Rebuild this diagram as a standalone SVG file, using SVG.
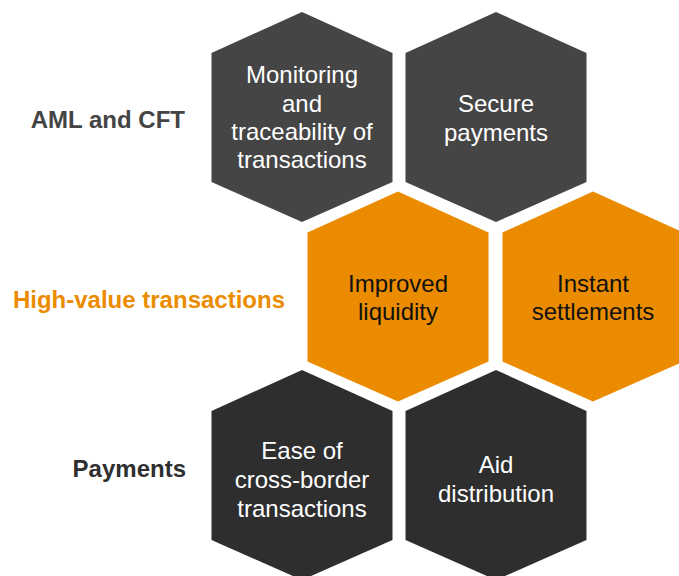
<svg xmlns="http://www.w3.org/2000/svg" xmlns:xlink="http://www.w3.org/1999/xlink" width="679" height="576" viewBox="0 0 679 576">
  <style>
    .hx-top { fill: #454545; }
    .hx-mid { fill: #EB8C00; }
    .hx-bot { fill: #2E2E2E; }
    .t { font-family: "Liberation Sans", Arial, sans-serif; font-size: 24px; text-anchor: middle; }
    .tw { fill: #FFFFFF; }
    .tk { fill: #111111; }
    .lbl { font-family: "Liberation Sans", Arial, sans-serif; font-size: 24px; font-weight: bold; text-anchor: end; }
  </style>
  <defs>
    <polygon id="hex" points="0,-105 90.5,-64 90.5,65 0,105 -90.5,65 -90.5,-64"/>
  </defs>
  <rect width="679" height="576" fill="#FFFFFF"/>

  <g id="label-aml">
    <text class="lbl" x="185" y="128" fill="#444444">AML and CFT</text>
  </g>
  <g id="label-hv">
    <text class="lbl" x="285" y="308" fill="#EB8C00">High-value transactions</text>
  </g>
  <g id="label-payments">
    <text class="lbl" x="186" y="477" fill="#2E2E2E">Payments</text>
  </g>

  <g id="hex-monitoring">
    <use xlink:href="#hex" class="hx-top" transform="translate(302,117)"/>
    <text class="t tw" x="302" y="83">Monitoring</text>
    <text class="t tw" x="302" y="112">and</text>
    <text class="t tw" x="302" y="140">traceability of</text>
    <text class="t tw" x="302" y="168">transactions</text>
  </g>
  <g id="hex-secure">
    <use xlink:href="#hex" class="hx-top" transform="translate(496,117)"/>
    <text class="t tw" x="496" y="112">Secure</text>
    <text class="t tw" x="496" y="141">payments</text>
  </g>
  <g id="hex-liquidity">
    <use xlink:href="#hex" class="hx-mid" transform="translate(398,296.5)"/>
    <text class="t tk" x="398" y="292">Improved</text>
    <text class="t tk" x="398" y="320">liquidity</text>
  </g>
  <g id="hex-settlements">
    <use xlink:href="#hex" class="hx-mid" transform="translate(593,296.5)"/>
    <text class="t tk" x="593" y="292">Instant</text>
    <text class="t tk" x="593" y="320">settlements</text>
  </g>
  <g id="hex-crossborder">
    <use xlink:href="#hex" class="hx-bot" transform="translate(302,475)"/>
    <text class="t tw" x="302" y="459">Ease of</text>
    <text class="t tw" x="302" y="488">cross-border</text>
    <text class="t tw" x="302" y="517">transactions</text>
  </g>
  <g id="hex-aid">
    <use xlink:href="#hex" class="hx-bot" transform="translate(496,475)"/>
    <text class="t tw" x="496" y="473">Aid</text>
    <text class="t tw" x="496" y="502">distribution</text>
  </g>
  <g id="connectors"/>
</svg>
